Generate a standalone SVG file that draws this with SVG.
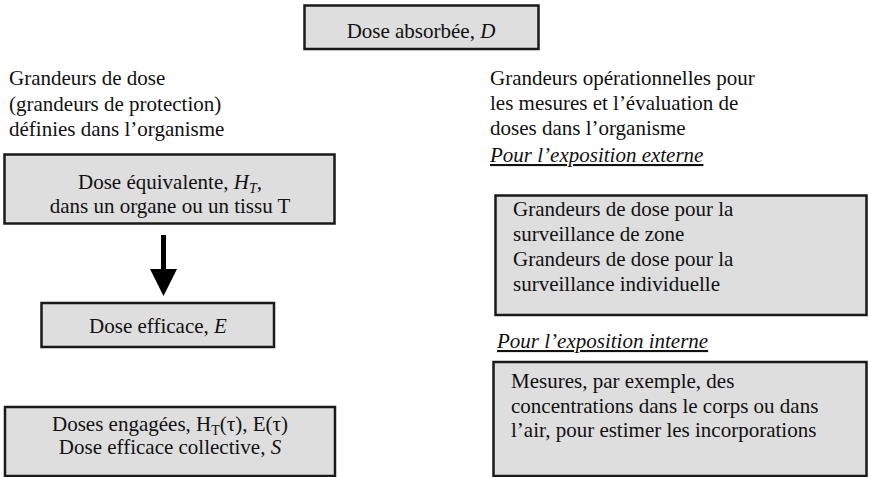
<svg xmlns="http://www.w3.org/2000/svg" width="869" height="477" viewBox="0 0 869 477" font-family="'Liberation Serif', 'Times New Roman', Times, serif">
<style>
text{font-family:'Liberation Serif','Times New Roman',Times,serif;font-size:21px;fill:#111}
.box{fill:#dedede;stroke:#1a1a1a;stroke-width:2.5}
.i{font-style:italic}
.u{font-style:italic;text-decoration:underline}
.c{text-anchor:middle}
.sub{font-size:14px;baseline-shift:-4px}
</style>
<rect width="869" height="477" fill="#fff"/>
<g id="dose-absorbee">
<rect class="box" x="304.5" y="5.5" width="234" height="43.5"/>
<text class="c" x="421" y="38">Dose absorbée, <tspan class="i">D</tspan></text>
</g>
<g id="titre-gauche">
<text x="9" y="85">Grandeurs de dose</text>
<text x="9" y="111">(grandeurs de protection)</text>
<text x="9" y="136">définies dans l’organisme</text>
</g>
<g id="titre-droite">
<text x="490" y="85">Grandeurs opérationnelles pour</text>
<text x="490" y="110">les mesures et l’évaluation de</text>
<text x="490" y="135">doses dans l’organisme</text>
</g>
<g id="dose-equivalente">
<rect class="box" x="4.5" y="154.5" width="330" height="69"/>
<text class="c" x="170" y="189">Dose équivalente, <tspan class="i">H</tspan><tspan class="i sub">T</tspan><tspan class="i">,</tspan></text>
<text class="c" x="170" y="213">dans un organe ou un tissu T</text>
</g>
<g id="dose-efficace">
<rect class="box" x="41.5" y="303" width="232.5" height="44"/>
<text class="c" x="158" y="333">Dose efficace, <tspan class="i">E</tspan></text>
</g>
<g id="doses-engagees">
<rect class="box" x="5" y="407" width="330" height="69"/>
<text class="c" x="170" y="431">Doses engagées, H<tspan class="sub">T</tspan>(τ), E(τ)</text>
<text class="c" x="170" y="454">Dose efficace collective, <tspan class="i">S</tspan></text>
</g>
<g id="externe">
<text class="u" x="490" y="162">Pour l’exposition externe</text>
</g>
<g id="surveillance">
<rect class="box" x="495.5" y="195.5" width="371" height="119.5"/>
<text x="513" y="216">Grandeurs de dose pour la</text>
<text x="513" y="241">surveillance de zone</text>
<text x="513" y="266">Grandeurs de dose pour la</text>
<text x="513" y="291">surveillance individuelle</text>
</g>
<g id="interne">
<text class="u" x="497" y="348">Pour l’exposition interne</text>
</g>
<g id="mesures">
<rect class="box" x="493.5" y="362" width="373" height="114"/>
<text x="511" y="388">Mesures, par exemple, des</text>
<text x="511" y="413">concentrations dans le corps ou dans</text>
<text x="511" y="437">l’air, pour estimer les incorporations</text>
</g>
<g id="connecteurs">
<rect x="161" y="235" width="5" height="36" fill="#000"/>
<polygon points="150,269 177,269 163.5,296" fill="#000"/>
</g>
</svg>
